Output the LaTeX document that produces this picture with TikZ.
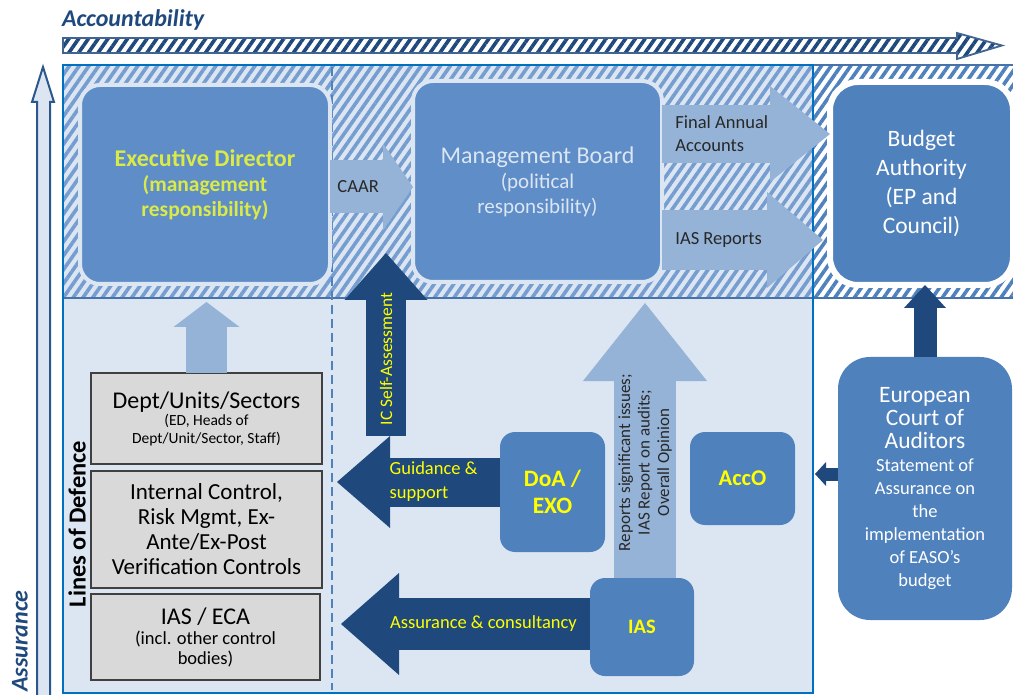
\documentclass[tikz,border=0pt]{standalone}
\usepackage{fontspec}
\setmainfont{Carlito}
\usetikzlibrary{shapes,arrows.meta,positioning,patterns.meta}
\definecolor{dblue}{RGB}{31,73,125}
\definecolor{mblue}{RGB}{79,129,189}
\definecolor{eblue}{RGB}{94,141,199}
\definecolor{lblue}{RGB}{149,179,215}
\definecolor{pblue}{RGB}{220,230,242}
\definecolor{sblue}{RGB}{118,157,208}
\definecolor{rblue}{RGB}{0,112,192}
\definecolor{lineblue}{RGB}{72,115,170}
\definecolor{greybox}{RGB}{217,217,217}
\definecolor{ylw}{RGB}{255,255,0}
\definecolor{ylg}{RGB}{218,234,72}
\definecolor{dgrey}{RGB}{40,40,40}

\begin{document}
\begin{tikzpicture}[x=1pt,y=-1pt,% pixel grid of the page, y downwards
			every node/.style={
				align=center,  		% so that "\\" breaks lines
				inner sep=0pt,
				outer sep=0pt		% labels on the fat arrows sit where they are put
			},
			hatch/.style={pattern={Lines[angle=55,distance=8pt,line width=3.6pt]},pattern color=#1},
			rbox/.style={rectangle,rounded corners=#1,fill=mblue,text=white},
			rbox/.default=15pt,
			gbox/.style={rectangle,draw=black!75,line width=1.3pt,fill=greybox,minimum width=231pt},
			blk/.style n args={4}{draw=#1,line width=#2,-{Triangle[length=#3,width=#4,line width=0pt]}},
			lbl/.style={text=dgrey,font=\fontsize{18.5}{23}\selectfont,align=left},
			ylbl/.style={text=ylw,font=\fontsize{18.5}{24}\selectfont,align=left}
		]
		\useasboundingbox (0,0) rectangle (1013,695);
		% hatched band on top
		\fill[pblue] (63,65) rectangle (813,298);
		\path[hatch=sblue] (63,65) rectangle (813,298);
		\path[hatch=mblue] (813,65) rectangle (1013,298);
		\node[fill=pblue,minimum width=750pt,minimum height=395pt](LR) at (438,495.5){};
		\draw[lineblue,line width=2.5pt] (63,298) -- (1013,298) (813,65) -- (1013,65);
		\draw[rblue,line width=2.5pt] (63,65) rectangle (813,693);
		\draw[mblue,line width=2pt,dash pattern=on 9pt off 5pt] (332,67) -- (332,690);
		% axes
		\draw[dblue!85!white,line width=1.8pt,hatch=dblue]
			(63,38) -- (957,38) -- (957,33) -- (1002,45.5) -- (957,59) -- (957,53) -- (63,53) -- cycle;
		\draw[dblue!75!mblue,line width=2pt,fill=pblue]
			(37,700) -- (37,102) -- (32,102) -- (43,67) -- (54,102) -- (50,102) -- (50,700);
		\node[anchor=west,text=dblue,font=\bfseries\itshape\fontsize{24}{28}\selectfont](ACC) at (62,20){Accountability};
		\node[rotate=90,text=dblue,font=\bfseries\itshape\fontsize{24}{28}\selectfont](ASR) at (20,641){Assurance};
		% boxes
		\node[rbox=20pt,fill=eblue,draw=pblue,line width=4pt,minimum width=250pt,minimum height=199pt,
			text=ylg,font=\bfseries\fontsize{21.5}{25}\selectfont](ED) at (205,184.5)
			{{\fontsize{24}{25}\selectfont Executive Director}\\(management\\responsibility)};
		\node[rbox=20pt,fill=eblue,draw=pblue,line width=4pt,minimum width=249pt,minimum height=201pt,
			text=pblue,font=\fontsize{21}{25}\selectfont](MB) at (537.5,181.5)
			{{\fontsize{24}{25}\selectfont Management Board}\\(political\\responsibility)};
		\node[rbox=28pt,draw=white,line width=6pt,minimum width=183pt,minimum height=203pt,
			font=\fontsize{23.5}{29}\selectfont](BA) at (921.5,183.5){Budget\\Authority\\(EP and\\Council)};
		\node[rbox=32pt,minimum width=174pt,minimum height=263pt,
			font=\fontsize{18.5}{23}\selectfont](ECA) at (925,488.5)
			{{\fontsize{23.5}{29}\selectfont European}\\{\fontsize{23.5}{29}\selectfont Court of}\\{\fontsize{23.5}{26}\selectfont Auditors}\\Statement of\\Assurance on\\the\\implementation\\of EASO’s\\budget};
		\node[rbox,minimum width=105pt,minimum height=120pt,text=ylw,
			font=\bfseries\fontsize{23.5}{27}\selectfont](DoA) at (552.5,492){DoA /\\EXO};
		\node[rbox,minimum width=105pt,minimum height=93pt,text=ylw,
			font=\bfseries\fontsize{22.5}{27}\selectfont](AccO) at (742.5,478.5){AccO};
		\node[rbox,minimum width=104pt,minimum height=98pt,text=ylw,
			font=\bfseries\fontsize{20.5}{24}\selectfont](IAS) at (642,627){IAS};
		\node[gbox,minimum height=91pt,font=\fontsize{15.5}{17.5}\selectfont](D1) at (206.5,418.5)
			{{\fontsize{24}{24}\selectfont Dept/Units/Sectors}\\(ED, Heads of\\Dept/Unit/Sector, Staff)};
		\node[gbox,minimum height=117pt,font=\fontsize{23}{25}\selectfont](D2) at (206.5,529.5)
			{Internal Control,\\Risk Mgmt, Ex-\\Ante/Ex-Post\\Verification Controls};
		\node[gbox,minimum width=229pt,minimum height=86pt,font=\fontsize{18.5}{20}\selectfont](D3) at (205.5,637)
			{{\fontsize{24}{25}\selectfont IAS / ECA}\\(incl. other control\\bodies)};
		\node[rotate=90,font=\bfseries\fontsize{24.5}{28}\selectfont](LoD) at (77,524){Lines of Defence};
		% free ends of the block arrows
		\coordinate (caar) at (0,187);
		\coordinate (faa) at (0,134);
		\coordinate (iasr) at (0,240);
		\coordinate (ics) at (386,436);
		\coordinate (ict) at (386,253);
		\coordinate (gs) at (0,482);
		\coordinate (ac) at (0,624);
		\coordinate (rt) at (645,303);
		\coordinate (el) at (838,474);
		\path
		(ED.east |- caar)edge [blk={lblue}{53pt}{30pt}{87pt}] node [lbl,pos=0.09,anchor=west] {CAAR} (MB.west |- caar)
		(MB.east |- faa)edge [blk={lblue}{58pt}{60pt}{96pt}] node [lbl,pos=0.08,anchor=west] {Final Annual\\Accounts} (BA.west |- faa)
		(MB.east |- iasr)edge [blk={lblue}{60pt}{56pt}{96pt},shorten >=7pt] node [lbl,pos=0.08,anchor=west] {IAS Reports} (BA.west |- iasr)
		(D1.north)edge [blk={lblue}{41pt}{25pt}{66pt},shorten >=18pt] node [] {} (D1.north |- ED.south)
		(ics)edge [blk={dblue}{40pt}{47pt}{83pt}] node [ylbl,font=\fontsize{17.5}{20}\selectfont,pos=0.42,sloped] {IC Self-Assessment} (ict)
		(DoA.west |- gs)edge [blk={dblue}{49pt}{53pt}{92pt},shorten >=15pt] node [ylbl,pos=0.62,anchor=west] {Guidance \&\\support} (D2.east |- gs)
		(IAS.west |- ac)edge [blk={dblue}{52pt}{58pt}{102pt},shorten >=21pt] node [ylbl,pos=0.74,anchor=west] {Assurance \& consultancy} (D3.east |- ac)
		(rt |- IAS.north)edge [blk={lblue}{62pt}{78pt}{124pt}] node [text=dgrey,font=\fontsize{17}{19.5}\selectfont,pos=0.42,sloped] {Reports significant issues;\\IAS Report on audits;\\Overall Opinion} (rt)
		(ECA.north)edge [blk={dblue}{23pt}{23pt}{42pt}] node [] {} (ECA.north |- BA.south)
		(el)edge [blk={dblue}{13pt}{11pt}{24pt},shorten >=2pt] node [] {} (LR.east |- el)
		;
	\end{tikzpicture}
\end{document}
